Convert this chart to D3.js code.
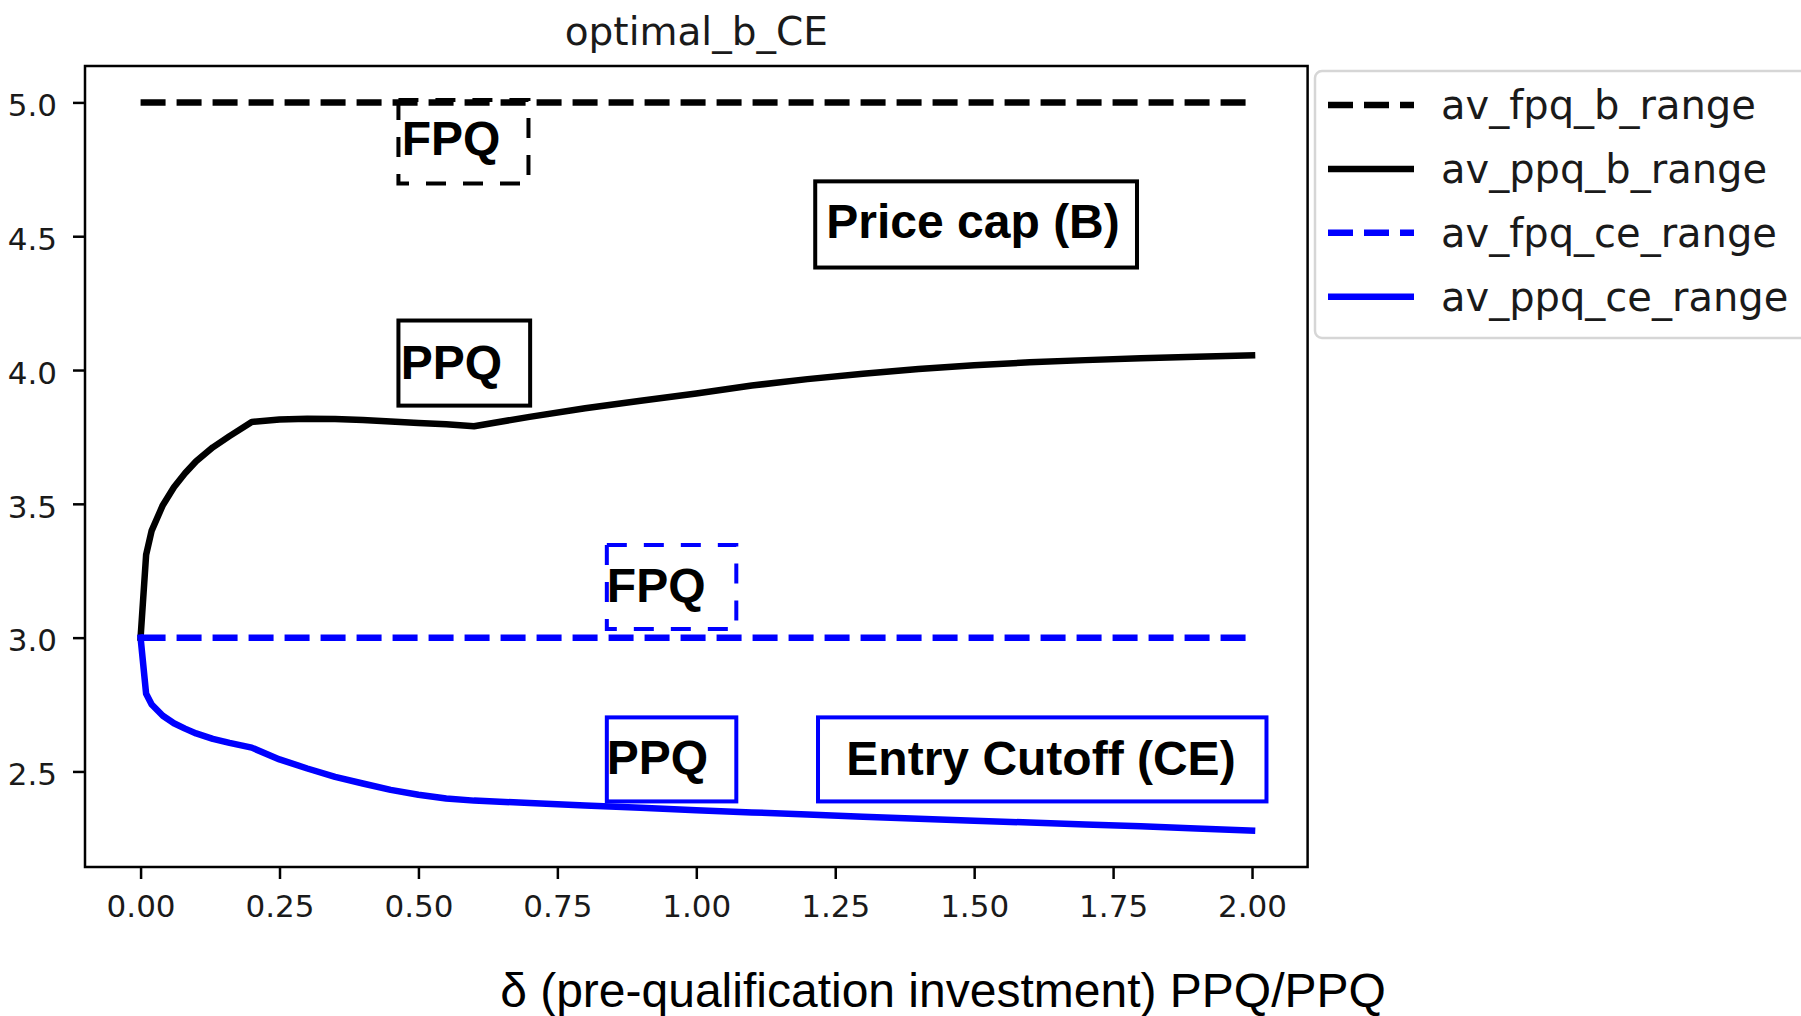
<!DOCTYPE html>
<html>
<head>
<meta charset="utf-8">
<script src="https://cdn.jsdelivr.net/npm/d3@7"></script>
<style>
  body { margin: 0; background: #fff; }
  svg { display: block; }
</style>
</head>
<body>
<div id="chart"></div>
<script>
// delta grid shared by the two PPQ curves
let delta = [0, 0.01, 0.02, 0.04, 0.06, 0.08, 0.10, 0.13, 0.16, 0.20, 0.25, 0.30, 0.35, 0.40,
             0.45, 0.50, 0.55, 0.60, 0.70, 0.80, 0.90, 1.00, 1.10, 1.20, 1.30, 1.40, 1.50,
             1.60, 1.70, 1.80, 1.90, 2.00];
let ppq_b = [3.00, 3.31, 3.40, 3.495, 3.562, 3.614, 3.659, 3.711, 3.753, 3.806, 3.815, 3.818,
             3.817, 3.813, 3.808, 3.802, 3.797, 3.790, 3.825, 3.857, 3.885, 3.912, 3.942,
             3.966, 3.986, 4.004, 4.018, 4.029, 4.037, 4.044, 4.050, 4.055];
let ppq_ce = [3.00, 2.79, 2.75, 2.708, 2.680, 2.660, 2.642, 2.622, 2.607, 2.589, 2.545, 2.511,
              2.480, 2.455, 2.431, 2.413, 2.399, 2.391, 2.382, 2.373, 2.364, 2.355, 2.347,
              2.339, 2.331, 2.323, 2.316, 2.309, 2.302, 2.295, 2.287, 2.279];

// the two FPQ lines are flat
let fpq_delta = [0, 2];
let fpq_b = [5.0, 5.0];
let fpq_ce = [3.0, 3.0];

let x_ticks = [0, 0.25, 0.5, 0.75, 1.0, 1.25, 1.5, 1.75, 2.0];
let y_ticks = [2.5, 3.0, 3.5, 4.0, 4.5, 5.0];

let series_names = ['av_fpq_b_range', 'av_ppq_b_range', 'av_fpq_ce_range', 'av_ppq_ce_range'];
let box_labels = ['FPQ', 'PPQ', 'Price cap (B)', 'FPQ', 'PPQ', 'Entry Cutoff (CE)'];

let title_text = 'optimal_b_CE';
let xlabel_text = 'δ (pre-qualification investment) PPQ/PPQ';

// ---- layout (pixels) ----
let svg_width = 1801;
let svg_height = 1016;
let plot = {left: 85, right: 1307.6, top: 66, bottom: 867};
let line_w = 6.5;
let dash = '25,11';

let svg = d3.select('#chart')
            .append('svg')
            .attr('width', svg_width)
            .attr('height', svg_height);

// matplotlib style 5% margins around the data
let all_y = ppq_b.concat(ppq_ce, fpq_b, fpq_ce);
let x_ext = d3.extent(delta);
let y_ext = d3.extent(all_y);
let x_pad = (x_ext[1] - x_ext[0]) * 0.05;
let y_pad = (y_ext[1] - y_ext[0]) * 0.05;

let x = d3.scaleLinear()
          .domain([x_ext[0] - x_pad, x_ext[1] + x_pad])
          .range([plot.left, plot.right]);
let y = d3.scaleLinear()
          .domain([y_ext[0] - y_pad, y_ext[1] + y_pad])
          .range([plot.bottom, plot.top]);

// series table built from the arrays above
let series = [
  {name: series_names[0], xs: fpq_delta, ys: fpq_b,  color: '#000000', dashed: true},
  {name: series_names[1], xs: delta,     ys: ppq_b,  color: '#000000', dashed: false},
  {name: series_names[2], xs: fpq_delta, ys: fpq_ce, color: '#0000ff', dashed: true},
  {name: series_names[3], xs: delta,     ys: ppq_ce, color: '#0000ff', dashed: false}
];

let line = d3.line()
             .x(function(d){ return x(d[0]); })
             .y(function(d){ return y(d[1]); });

svg.append('g')
   .selectAll('path')
   .data(series)
   .enter()
   .append('path')
   .attr('d', function(s){ return line(d3.zip(s.xs, s.ys)); })
   .attr('fill', 'none')
   .attr('stroke', function(s){ return s.color; })
   .attr('stroke-width', line_w)
   .attr('stroke-linejoin', 'round')
   .attr('stroke-linecap', function(s){ return s.dashed ? 'butt' : 'square'; })
   .attr('stroke-dasharray', function(s){ return s.dashed ? dash : null; });

// ---- axes ----
let x_axis = d3.axisBottom(x)
               .tickValues(x_ticks)
               .tickFormat(d3.format('.2f'))
               .tickSizeInner(12)
               .tickSizeOuter(0)
               .tickPadding(16);
let y_axis = d3.axisLeft(y)
               .tickValues(y_ticks)
               .tickFormat(d3.format('.1f'))
               .tickSizeInner(12)
               .tickSizeOuter(0)
               .tickPadding(16);

let gx = svg.append('g')
            .attr('transform', 'translate(0,' + plot.bottom + ')')
            .call(x_axis);
let gy = svg.append('g')
            .attr('transform', 'translate(' + plot.left + ',0)')
            .call(y_axis);

[gx, gy].forEach(function(g){
  g.select('.domain').remove();
  g.selectAll('line').attr('stroke', '#000').attr('stroke-width', 2.5);
  g.selectAll('text')
   .attr('fill', '#1a1a1a')
   .attr('font-family', 'DejaVu Sans')
   .attr('font-size', 31);
});
gy.selectAll('text').attr('dy', '0.43em');

// frame
svg.append('rect')
   .attr('x', plot.left)
   .attr('y', plot.top)
   .attr('width', plot.right - plot.left)
   .attr('height', plot.bottom - plot.top)
   .attr('fill', 'none')
   .attr('stroke', '#000')
   .attr('stroke-width', 2.5);

// ---- annotation boxes (data coordinates) ----
let boxes = [
  {x0: 0.464, x1: 0.698, y0: 5.009, y1: 4.697, tx: 0.470, ty: 4.803, color: '#000', dashed: true},
  {x0: 0.464, x1: 0.701, y0: 4.185, y1: 3.867, tx: 0.468, ty: 3.967, color: '#000', dashed: false},
  {x0: 1.214, x1: 1.793, y0: 4.705, y1: 4.383, tx: 1.234, ty: 4.492, color: '#000', dashed: false},
  {x0: 0.839, x1: 1.072, y0: 3.346, y1: 3.032, tx: 0.839, ty: 3.133, color: '#0000ff', dashed: true},
  {x0: 0.839, x1: 1.072, y0: 2.702, y1: 2.388, tx: 0.839, ty: 2.489, color: '#0000ff', dashed: false},
  {x0: 1.219, x1: 2.026, y0: 2.702, y1: 2.388, tx: 1.270, ty: 2.485, color: '#0000ff', dashed: false}
];

let ann = svg.append('g')
             .selectAll('g')
             .data(boxes)
             .enter()
             .append('g');

ann.append('rect')
   .attr('x', function(b){ return x(b.x0); })
   .attr('y', function(b){ return y(b.y0); })
   .attr('width', function(b){ return x(b.x1) - x(b.x0); })
   .attr('height', function(b){ return y(b.y1) - y(b.y0); })
   .attr('fill', 'none')
   .attr('stroke', function(b){ return b.color; })
   .attr('stroke-width', 4)
   .attr('stroke-dasharray', function(b){ return b.dashed ? '20,17' : null; });

ann.append('text')
   .text(function(b, i){ return box_labels[i]; })
   .attr('x', function(b){ return x(b.tx); })
   .attr('y', function(b){ return y(b.ty); })
   .attr('font-family', 'Liberation Sans, Arial, sans-serif')
   .attr('font-weight', 'bold')
   .attr('font-size', 48)
   .attr('fill', '#000');

// ---- title and x label ----
svg.append('text')
   .attr('x', (plot.left + plot.right) / 2)
   .attr('y', 45)
   .attr('text-anchor', 'middle')
   .attr('font-family', 'DejaVu Sans')
   .attr('font-size', 39)
   .attr('fill', '#1a1a1a')
   .text(title_text);

svg.append('text')
   .attr('x', 943)
   .attr('y', 1007)
   .attr('text-anchor', 'middle')
   .attr('font-family', 'Liberation Sans, Arial, sans-serif')
   .attr('font-size', 48)
   .attr('fill', '#000')
   .text(xlabel_text);

// ---- legend ----
let legend = svg.append('g');
legend.append('rect')
      .attr('x', 1315)
      .attr('y', 71)
      .attr('width', 520)
      .attr('height', 267)
      .attr('rx', 7)
      .attr('fill', '#fff')
      .attr('stroke', '#d6d6d6')
      .attr('stroke-width', 2.5);

let items = legend.selectAll('g.item')
                  .data(series)
                  .enter()
                  .append('g')
                  .attr('class', 'item')
                  .attr('transform', function(s, i){ return 'translate(0,' + (105 + i * 63.9) + ')'; });

items.append('line')
     .attr('x1', 1328)
     .attr('x2', 1414)
     .attr('y1', 0)
     .attr('y2', 0)
     .attr('stroke', function(s){ return s.color; })
     .attr('stroke-width', line_w)
     .attr('stroke-dasharray', function(s){ return s.dashed ? dash : null; });

items.append('text')
     .attr('x', 1441)
     .attr('y', 14)
     .attr('font-family', 'DejaVu Sans')
     .attr('font-size', 40)
     .attr('fill', '#1a1a1a')
     .text(function(s){ return s.name; });
</script>
</body>
</html>
